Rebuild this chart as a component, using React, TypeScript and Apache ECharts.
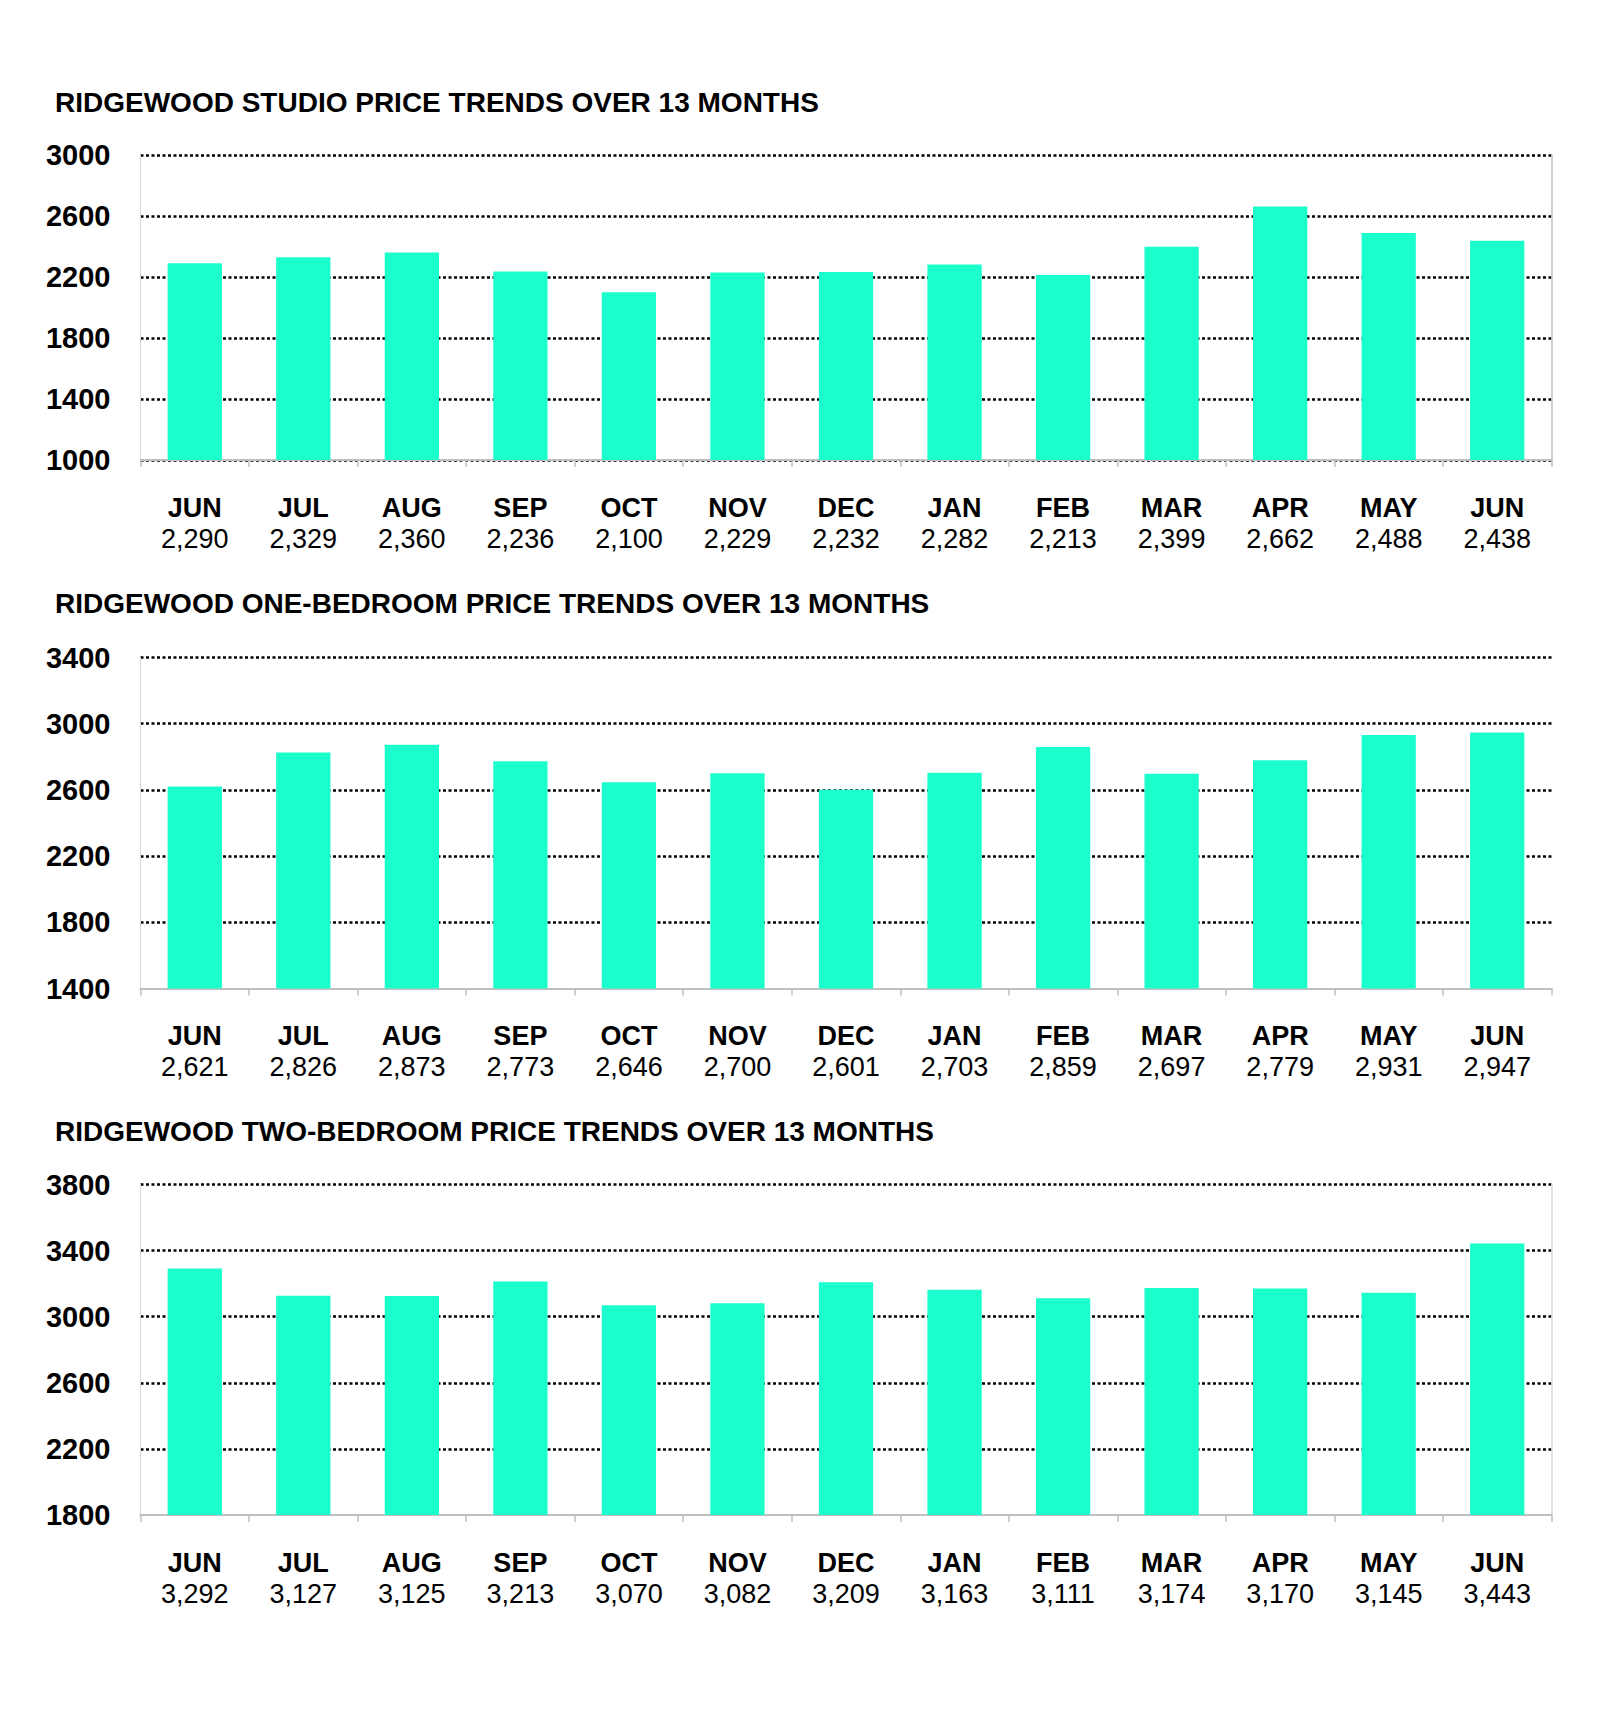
import React, { useEffect, useRef } from "react";
import * as echarts from "echarts";

const months = ["JUN", "JUL", "AUG", "SEP", "OCT", "NOV", "DEC", "JAN", "FEB", "MAR", "APR", "MAY", "JUN"];

const studioValues = [2290, 2329, 2360, 2236, 2100, 2229, 2232, 2282, 2213, 2399, 2662, 2488, 2438];
const oneBedValues = [2621, 2826, 2873, 2773, 2646, 2700, 2601, 2703, 2859, 2697, 2779, 2931, 2947];
const twoBedValues = [3292, 3127, 3125, 3213, 3070, 3082, 3209, 3163, 3111, 3174, 3170, 3145, 3443];

const studioTicks = [1000, 1400, 1800, 2200, 2600, 3000];
const oneBedTicks = [1400, 1800, 2200, 2600, 3000, 3400];
const twoBedTicks = [1800, 2200, 2600, 3000, 3400, 3800];

const titles = [
  "RIDGEWOOD STUDIO PRICE TRENDS OVER 13 MONTHS",
  "RIDGEWOOD ONE-BEDROOM PRICE TRENDS OVER 13 MONTHS",
  "RIDGEWOOD TWO-BEDROOM PRICE TRENDS OVER 13 MONTHS",
];

const FONT = "'Liberation Sans', Arial, Helvetica, sans-serif";
const BAR = "#1affcc";

const panels = [
  { values: studioValues, ticks: studioTicks, gridTop: 155, gridH: 305, titleC: 102, gridOnMin: true, rightLine: "#c0c0c0" },
  { values: oneBedValues, ticks: oneBedTicks, gridTop: 657.5, gridH: 331, titleC: 603.5, gridOnMin: false, rightLine: null },
  { values: twoBedValues, ticks: twoBedTicks, gridTop: 1184.5, gridH: 330.5, titleC: 1131.5, gridOnMin: false, rightLine: "#d9d9d9" },
];

const fmt = (v: number) => v.toLocaleString("en-US");

export default function App() {
  const ref = useRef<HTMLDivElement>(null);
  useEffect(() => {
    if (!ref.current) return;
    const chart = echarts.init(ref.current, undefined, { renderer: "svg" });
    const option: any = {
      animation: false,
      backgroundColor: "#ffffff",
      title: panels.map((p, i) => ({
        text: titles[i],
        left: 55,
        top: p.titleC - 16,
        padding: 0,
        textStyle: { fontFamily: FONT, fontSize: 28, fontWeight: "bold", color: "#000", lineHeight: 32 },
      })),
      grid: panels.map((p) => ({
        left: 140.5,
        right: 48.5,
        top: p.gridTop,
        height: p.gridH,
        containLabel: false,
        outerBoundsMode: "none",
      })),
      xAxis: panels.map((p, i) => ({
        type: "category",
        gridIndex: i,
        data: months,
        axisLine: { show: true, lineStyle: { color: "#bfbfbf", width: 2 } },
        axisTick: { show: true, length: 7, lineStyle: { color: "#bfbfbf", width: 1.5 } },
        axisLabel: {
          interval: 0,
          margin: 32,
          formatter: (val: string, idx: number) => `{m|${val}}\n{v|${fmt(p.values[idx])}}`,
          rich: {
            m: { fontFamily: FONT, fontSize: 27, fontWeight: "bold", color: "#000", lineHeight: 31 },
            v: { fontFamily: FONT, fontSize: 27, color: "#000", lineHeight: 31 },
          },
        },
        splitLine: { show: false },
      })),
      yAxis: panels.flatMap((p, i) => {
        const min = p.ticks[0];
        const max = p.ticks[p.ticks.length - 1];
        return [
          {
            type: "value",
            gridIndex: i,
            min,
            max,
            position: "left",
            axisLine: { show: true, lineStyle: { color: "#d9d9d9", width: 1 } },
            axisTick: { show: false, customValues: p.gridOnMin ? p.ticks : p.ticks.slice(1) },
            axisLabel: {
              customValues: p.ticks,
              formatter: (v: number) => String(v),
              margin: 30,
              fontFamily: FONT,
              fontSize: 29,
              fontWeight: "bold",
              color: "#000",
            },
            splitLine: { show: true, lineStyle: { color: "#000", width: 2.5, type: [3, 2.5] } },
          },
          {
            type: "value",
            gridIndex: i,
            min,
            max,
            position: "right",
            axisLine: { show: !!p.rightLine, lineStyle: { color: p.rightLine || "#fff", width: 1.5 } },
            axisTick: { show: false },
            axisLabel: { show: false },
            splitLine: { show: false },
          },
        ];
      }),
      series: panels.map((p, i) => ({
        type: "bar",
        xAxisIndex: i,
        yAxisIndex: i * 2,
        data: p.values,
        barCategoryGap: "50%",
        itemStyle: { color: BAR },
      })),
    };
    chart.setOption(option);
    return () => chart.dispose();
  }, []);
  return (
    <div
      ref={ref}
      style={{ position: "absolute", left: 0, top: 0, width: 1600, height: 1717, background: "#fff" }}
    />
  );
}
